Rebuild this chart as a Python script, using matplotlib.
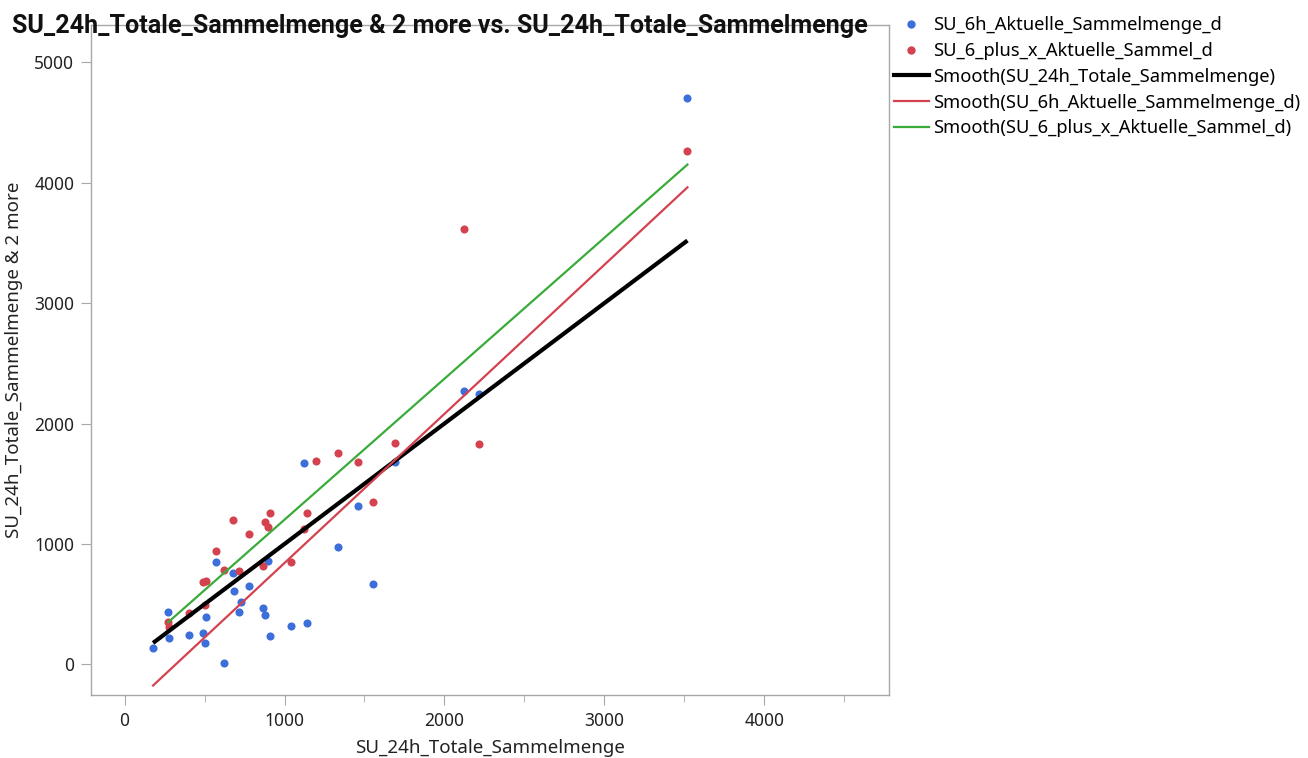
import numpy as np
import matplotlib
matplotlib.use("Agg")
import matplotlib.pyplot as plt
from matplotlib.lines import Line2D
from matplotlib.ticker import MultipleLocator

plt.rcParams['font.family'] = ['Noto Sans', 'DejaVu Sans']

# SU_24h_Totale_Sammelmenge (x) with the two partial collection amounts
su_24h = [178, 272, 278, 403, 491, 503, 509, 572, 622, 678, 684, 716, 728, 778,
          866, 878, 897, 909, 1041, 1122, 1141, 1197, 1334, 1459, 1553, 1690,
          2122, 2216, 3520]
su_6h = [133, 432, 216, 241, 257, 174, 390, 847, 8, 756, 606, 432, 515, 648,
         465, 407, 855, 233, 316, 1669, 341, np.nan, 972, 1312, 664, 1678,
         2267, 2243, 4701]
su_6_plus_x = [np.nan, 349, 307, 424, 681, 490, 689, 939, 781, 1196, np.nan, 772,
               np.nan, 1080, 814, 1179, 1138, 1254, 847, 1121, 1254, 1686, 1752,
               1678, 1346, 1836, 3613, 1827, 4261]

title = "SU_24h_Totale_Sammelmenge & 2 more vs. SU_24h_Totale_Sammelmenge"
x_label = "SU_24h_Totale_Sammelmenge"
y_label = "SU_24h_Totale_Sammelmenge & 2 more"
names = ["SU_6h_Aktuelle_Sammelmenge_d", "SU_6_plus_x_Aktuelle_Sammel_d"]

BLUE = "#3d6fdb"
RED = "#d4424f"
GREEN = "#3aab3a"

x = np.array(su_24h, dtype=float)
b = np.array(su_6h, dtype=float)
r = np.array(su_6_plus_x, dtype=float)

fig = plt.figure(figsize=(13.08, 7.58), dpi=100)
ax = fig.add_axes([0.0696, 0.083, 0.61, 0.884])

ax.scatter(x, b, s=34, color=BLUE, zorder=3, linewidths=0)
ax.scatter(x, r, s=34, color=RED, zorder=3, linewidths=0)


def fit_line(xv, yv):
    m = ~np.isnan(yv)
    k, c = np.polyfit(xv[m], yv[m], 1)
    xs = np.array([xv[m].min(), xv[m].max()])
    return xs, k * xs + c


# linear smoothers
xs, ys = fit_line(x, x)
ax.plot(xs, ys, color="black", lw=3.0, zorder=4, solid_capstyle="butt")
xs, ys = fit_line(x, b)
ax.plot(xs, ys, color=RED, lw=1.6, zorder=4)
xs, ys = fit_line(x, r)
ax.plot(xs, ys, color=GREEN, lw=1.6, zorder=4)

ax.set_xlim(-210, 4780)
ax.set_ylim(-255, 5310)
ax.xaxis.set_major_locator(MultipleLocator(1000))
ax.xaxis.set_minor_locator(MultipleLocator(500))
ax.yaxis.set_major_locator(MultipleLocator(1000))

for s in ax.spines.values():
    s.set_color("#a8a8a8")
    s.set_linewidth(1.0)
ax.tick_params(axis="both", which="major", length=7, color="#a8a8a8",
               labelsize=12.5, labelcolor="#222222", pad=5)
ax.tick_params(axis="x", which="minor", length=5, color="#a8a8a8")

ax.set_xlabel(x_label, fontsize=13.5, color="#222222", labelpad=7)
ax.set_ylabel(y_label, fontsize=13.5, color="#222222", labelpad=8)

fig.text(0.009, 0.966, title, fontsize=18.1, fontweight="bold",
         family=["Roboto", "DejaVu Sans"],
         ha="left", va="center", color="#111111")

handles = [
    Line2D([], [], ls="none", marker="o", ms=5.0, color=BLUE),
    Line2D([], [], ls="none", marker="o", ms=5.0, color=RED),
    Line2D([], [], color="black", lw=3.0),
    Line2D([], [], color=RED, lw=1.6),
    Line2D([], [], color=GREEN, lw=1.6),
]
labels = names + ["Smooth(SU_24h_Totale_Sammelmenge)",
                  "Smooth(SU_6h_Aktuelle_Sammelmenge_d)",
                  "Smooth(SU_6_plus_x_Aktuelle_Sammel_d)"]
fig.legend(handles, labels, loc="upper left", bbox_to_anchor=(0.6775, 0.988),
           frameon=False, fontsize=13.2, handlelength=1.95, handletextpad=0.2,
           labelspacing=0.42, borderaxespad=0)

fig.savefig("out.png", dpi=100)
